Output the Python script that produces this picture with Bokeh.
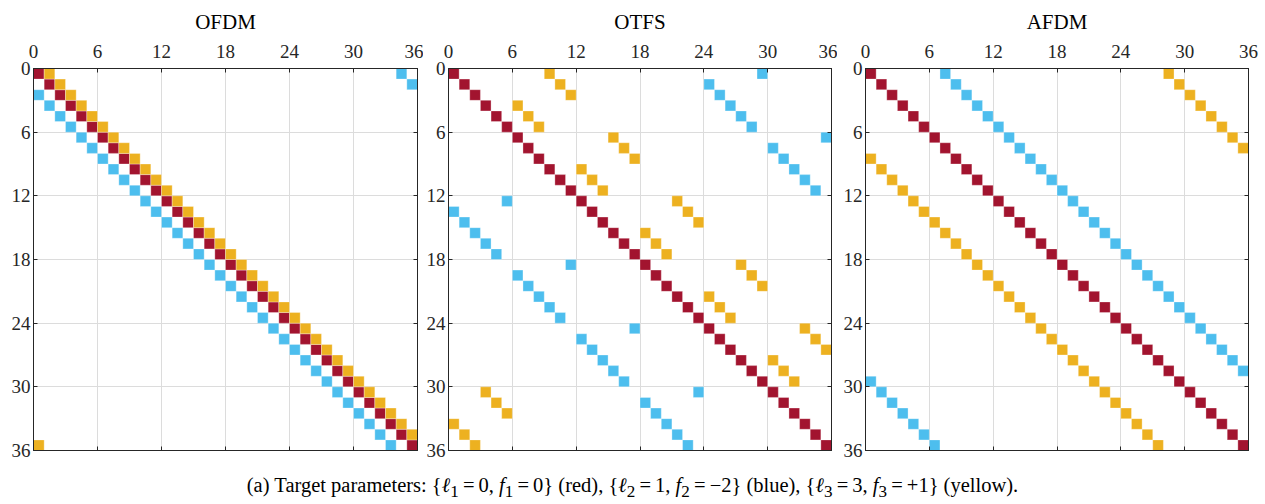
from bokeh.plotting import figure
from bokeh.models import Range1d, FixedTicker, LinearAxis, Div
from bokeh.layouts import column, row
from bokeh.embed import file_html
from bokeh.resources import INLINE

# ---------------- data ----------------
titles = ["OFDM", "OTFS", "AFDM"]
tick_values = [0, 6, 12, 18, 24, 30, 36]
rows_idx = list(range(36))

# column index of the non-zero entry in each row (row = list position)
ofdm_red = [0, 1, 2, 3, 4, 5, 6, 7, 8, 9, 10, 11, 12, 13, 14, 15, 16, 17,
            18, 19, 20, 21, 22, 23, 24, 25, 26, 27, 28, 29, 30, 31, 32, 33, 34, 35]
ofdm_blue = [34, 35, 0, 1, 2, 3, 4, 5, 6, 7, 8, 9, 10, 11, 12, 13, 14, 15,
             16, 17, 18, 19, 20, 21, 22, 23, 24, 25, 26, 27, 28, 29, 30, 31, 32, 33]
ofdm_yellow = [1, 2, 3, 4, 5, 6, 7, 8, 9, 10, 11, 12, 13, 14, 15, 16, 17, 18,
               19, 20, 21, 22, 23, 24, 25, 26, 27, 28, 29, 30, 31, 32, 33, 34, 35, 0]

otfs_red = [0, 1, 2, 3, 4, 5, 6, 7, 8, 9, 10, 11, 12, 13, 14, 15, 16, 17,
            18, 19, 20, 21, 22, 23, 24, 25, 26, 27, 28, 29, 30, 31, 32, 33, 34, 35]
otfs_blue = [29, 24, 25, 26, 27, 28, 35, 30, 31, 32, 33, 34, 5, 0, 1, 2, 3, 4,
             11, 6, 7, 8, 9, 10, 17, 12, 13, 14, 15, 16, 23, 18, 19, 20, 21, 22]
otfs_yellow = [9, 10, 11, 6, 7, 8, 15, 16, 17, 12, 13, 14, 21, 22, 23, 18, 19, 20,
               27, 28, 29, 24, 25, 26, 33, 34, 35, 30, 31, 32, 3, 4, 5, 0, 1, 2]

afdm_red = [0, 1, 2, 3, 4, 5, 6, 7, 8, 9, 10, 11, 12, 13, 14, 15, 16, 17,
            18, 19, 20, 21, 22, 23, 24, 25, 26, 27, 28, 29, 30, 31, 32, 33, 34, 35]
afdm_blue = [7, 8, 9, 10, 11, 12, 13, 14, 15, 16, 17, 18, 19, 20, 21, 22, 23, 24,
             25, 26, 27, 28, 29, 30, 31, 32, 33, 34, 35, 0, 1, 2, 3, 4, 5, 6]
afdm_yellow = [28, 29, 30, 31, 32, 33, 34, 35, 0, 1, 2, 3, 4, 5, 6, 7, 8, 9,
               10, 11, 12, 13, 14, 15, 16, 17, 18, 19, 20, 21, 22, 23, 24, 25, 26, 27]

panels = [
    (ofdm_red, ofdm_blue, ofdm_yellow),
    (otfs_red, otfs_blue, otfs_yellow),
    (afdm_red, afdm_blue, afdm_yellow),
]

RED = "#A2142F"
BLUE = "#4DBEEE"
YELLOW = "#EDB120"
AX = "#262626"
FONT = "'Liberation Serif'"

borders = [(33, 6), (25, 6), (28, 17)]


def make_panel(k):
    red, blue, yellow = panels[k]
    left, right = borders[k]
    p = figure(frame_width=383 if k else 384, frame_height=382,
               min_border_left=left, min_border_right=right,
               min_border_top=0, min_border_bottom=12,
               x_range=Range1d(0, 36), y_range=Range1d(36, 0),
               x_axis_location="above", toolbar_location=None,
               output_backend="svg", tools="")
    p.title.text = titles[k]
    p.title.align = "center"
    p.title.text_font = FONT
    p.title.text_font_style = "normal"
    p.title.text_font_size = "21px"
    p.title.text_color = "black"
    p.title.standoff = 15

    ticker = FixedTicker(ticks=tick_values)
    for ax in p.xaxis + p.yaxis:
        ax.ticker = ticker
        ax.major_label_text_font = FONT
        ax.major_label_text_font_size = "19px"
        ax.major_label_text_color = AX
        ax.axis_line_color = AX
        ax.major_tick_line_color = AX
        ax.major_tick_in = 4
        ax.major_tick_out = 0
        ax.minor_tick_line_color = None
    p.xaxis.major_label_standoff = 11
    p.yaxis.major_label_standoff = 3

    blank = {v: "" for v in tick_values}
    for loc in ("below", "right"):
        ax = LinearAxis(ticker=ticker, major_label_overrides=blank,
                        major_label_text_font_size="1px",
                        major_label_standoff=0, axis_line_color=AX,
                        major_tick_line_color=AX, major_tick_in=4,
                        major_tick_out=0, minor_tick_line_color=None)
        p.add_layout(ax, loc)

    p.xgrid.ticker = ticker
    p.ygrid.ticker = ticker
    p.grid.grid_line_color = "#dcdcdc"
    p.grid.grid_line_width = 1
    p.outline_line_color = AX

    for cols, color in ((red, RED), (blue, BLUE), (yellow, YELLOW)):
        p.rect(x=[c + 0.5 for c in cols], y=[r + 0.5 for r in rows_idx],
               width=1, height=1, fill_color=color,
               line_color="white", line_alpha=0.3, line_width=1)
    return p


figs = [make_panel(k) for k in range(3)]

caption = Div(
    text=("(a) Target parameters: {<i>&#8467;</i><sub>1</sub>&thinsp;=&thinsp;0, "
          "<i>f</i><sub>1</sub>&thinsp;=&thinsp;0} (red), "
          "{<i>&#8467;</i><sub>2</sub>&thinsp;=&thinsp;1, "
          "<i>f</i><sub>2</sub>&thinsp;=&thinsp;&minus;2} (blue), "
          "{<i>&#8467;</i><sub>3</sub>&thinsp;=&thinsp;3, "
          "<i>f</i><sub>3</sub>&thinsp;=&thinsp;+1} (yellow)."),
    width=1265, height=36,
    styles={"font-family": "'Liberation Serif', serif", "font-size": "20.5px",
            "color": "black", "text-align": "center", "padding-top": "6px",
            "padding-right": "10px", "box-sizing": "border-box",
            "width": "1265px", "line-height": "24px"},
)

layout = column(row(*figs, spacing=0), caption, spacing=0)
open("out.html", "w").write(file_html(layout, INLINE))
